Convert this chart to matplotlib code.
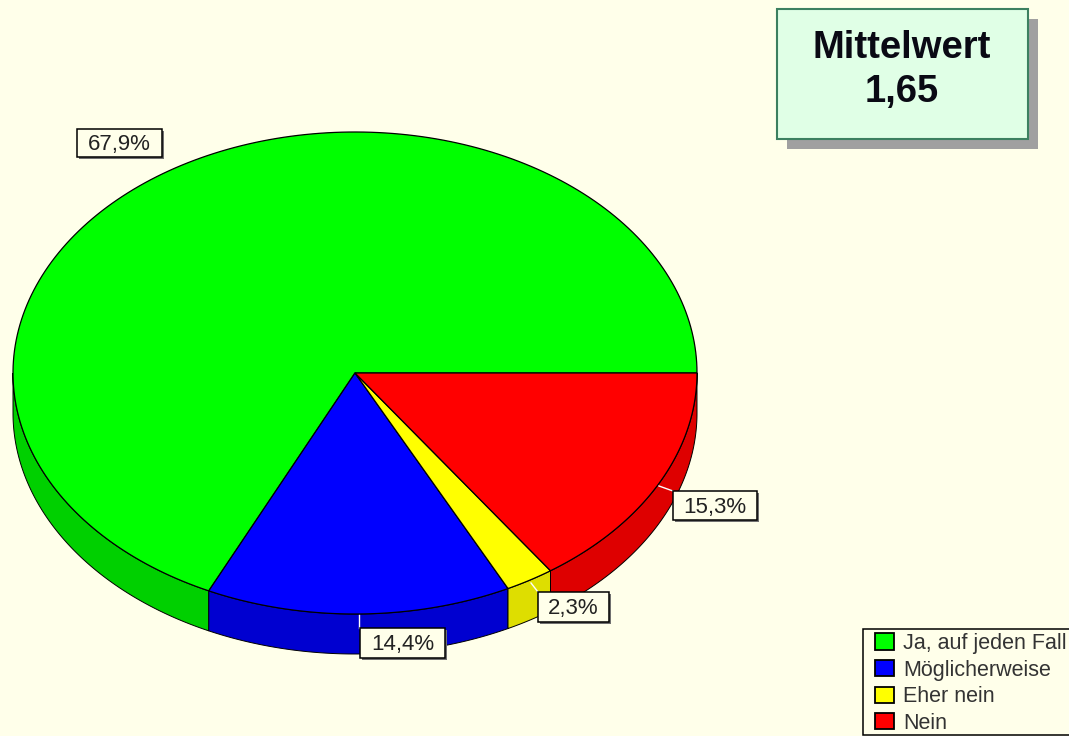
import numpy as np
import matplotlib
matplotlib.use('Agg')
import matplotlib.pyplot as plt
from matplotlib.patches import Rectangle, Patch

categories = ['Ja, auf jeden Fall', 'Möglicherweise', 'Eher nein', 'Nein']
values = [67.9, 14.4, 2.3, 15.3]
value_labels = ['67,9%', '14,4%', '2,3%', '15,3%']
top_colors = ['#00FF00', '#0000FF', '#FFFF00', '#FF0000']
side_colors = ['#00D000', '#0000D0', '#DEDE00', '#DE0000']
mean_title = 'Mittelwert'
mean_value = '1,65'

BG = '#FFFFEA'
plt.rcParams['font.family'] = ['Liberation Sans', 'DejaVu Sans']

# axes in screen pixels, y pointing down
fig = plt.figure(figsize=(10.69, 7.36), dpi=100, facecolor=BG)
ax = fig.add_axes([0, 0, 1, 1])
ax.set_xlim(0, 1069)
ax.set_ylim(736, 0)
ax.axis('off')

cx, cy = 355, 373
rx, ry = 342, 241
depth = 40


def arc(t0, t1, dy=0):
    t = np.radians(np.linspace(t0, t1, 200))
    return cx + rx * np.cos(t), cy - ry * np.sin(t) + dy


# slice angles, going round from 3 o'clock over the top
edges = np.cumsum([0] + values) / sum(values) * 360

# rim first so the top can sit over it
for i in range(len(values)):
    t0 = max(edges[i], 180)
    t1 = edges[i + 1]
    if t1 <= t0:
        continue
    x0, y0 = arc(t0, t1)
    x1, y1 = arc(t0, t1, depth)
    ax.fill(np.r_[x0, x1[::-1]], np.r_[y0, y1[::-1]], facecolor=side_colors[i],
            edgecolor='black', linewidth=0.7, zorder=2)

for i in range(len(values)):
    x, y = arc(edges[i], edges[i + 1])
    ax.fill(np.r_[cx, x], np.r_[cy, y], facecolor=top_colors[i],
            edgecolor='black', linewidth=0.9, zorder=3)

# leader lines
ax.plot([359, 359], [615, 628], color='white', lw=1, zorder=4)
ax.plot([531, 538], [583, 592], color='white', lw=1, zorder=4)
ax.plot([659, 673], [486, 491], color='white', lw=1, zorder=4)

# value labels: left, top, right, bottom in pixels
label_boxes = [(77, 129, 162, 157), (360, 628, 445, 658), (538, 592, 609, 622), (673, 491, 757, 520)]
for box, text in zip(label_boxes, value_labels):
    l, t, r, b = box
    ax.add_patch(Rectangle((l + 2, t + 2), r - l, b - t, facecolor='#707070', edgecolor='none', zorder=5))
    ax.add_patch(Rectangle((l, t), r - l, b - t, facecolor=BG, edgecolor='black', linewidth=1.1, zorder=6))
    ax.text((l + r) / 2, (t + b) / 2 + 1.5, text, ha='center', va='center', fontsize=16,
            color='#222222', zorder=7)

# Mittelwert box
ax.add_patch(Rectangle((787, 19), 251, 130, facecolor='#A0A0A0', edgecolor='none', zorder=5))
ax.add_patch(Rectangle((777, 9), 251, 130, facecolor='#E0FFE6', edgecolor='#3C8060', linewidth=1.5, zorder=6))
ax.text(902, 48, mean_title, ha='center', va='center', fontsize=27.5, fontweight='bold', color='#0A0A14', zorder=7)
ax.text(902, 92, mean_value, ha='center', va='center', fontsize=27.5, fontweight='bold', color='#0A0A14', zorder=7)

# legend frame runs off the right edge, as in the original
ax.add_patch(Rectangle((863, 629), 230, 106, facecolor=BG, edgecolor='black', linewidth=1.1, zorder=8,
                       clip_on=True))
handles = [Patch(facecolor=c, edgecolor='black', linewidth=1.3) for c in top_colors]
leg = ax.legend(handles, categories, loc='upper left', bbox_to_anchor=(875, 633),
                bbox_transform=ax.transData, borderaxespad=0, fontsize=15.5,
                handlelength=0.88, handleheight=0.79, handletextpad=0.42,
                labelspacing=0.26, borderpad=0, frameon=False, labelcolor='#333333')
leg.set_zorder(9)

fig.savefig('out.png', dpi=100, facecolor=BG)
